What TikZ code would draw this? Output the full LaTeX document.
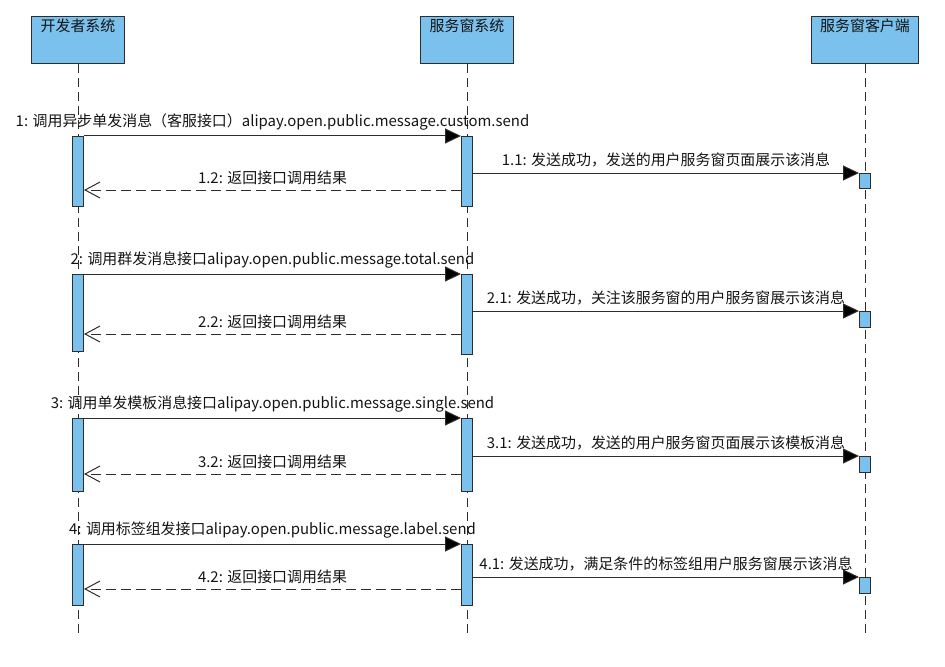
\documentclass[tikz,border=0pt]{standalone}
\usepackage{fontspec}
\setmainfont{Noto Sans CJK SC}
\usetikzlibrary{positioning,calc,arrows.meta}
\definecolor{actblue}{RGB}{122,193,238}
\definecolor{edge}{RGB}{45,45,45}
\definecolor{ink}{RGB}{20,20,20}

\begin{document}
\begin{tikzpicture}[x=1bp, y=-1bp, font=\fontsize{15}{18}\selectfont, text=ink,
    head/.style={draw=edge, line width=1bp, fill=actblue, anchor=north, minimum width=93bp, inner sep=4bp, text height=11bp, text depth=28bp},
    act/.style={draw=edge, line width=1bp, fill=actblue, anchor=north, minimum width=11bp, inner sep=0pt},
    life/.style={draw=edge, line width=1bp, dash pattern=on 9bp off 5bp},
    call/.style={draw=edge, line width=1bp, -{Triangle[length=16bp,width=15bp,fill=black]}},
    ret/.style={draw=edge, line width=1bp, dash pattern=on 10bp off 5bp, -{Straight Barb[length=15bp,width=16bp]}},
    msg/.style={above=4bp, midway, inner sep=1bp}]
    \useasboundingbox (0,0) rectangle (945,667);

    % lifelines
    \node[head] (dev) at (78,16) {开发者系统};
    \node[head] (svc) at (467,16) {服务窗系统};
    \node[head, minimum width=107bp] (cli) at (865,16) {服务窗客户端};
    \coordinate (devend) at (78,635);
    \coordinate (svcend) at (467,635);
    \coordinate (cliend) at (865,635);
    \draw[life] (dev.south) -- (devend);
    \draw[life] (svc.south) -- (svcend);
    \draw[life] (cli.south) -- (cliend);

    % message 1
    \node[act, minimum height=70bp] (d1) at (78,136) {};
    \node[act, minimum height=70bp] (s1) at (467,136) {};
    \node[act, minimum height=15bp] (c1) at (865,173) {};
    \draw[call] (d1.north east) -- node[msg] {1: 调用异步单发消息（客服接口）alipay.open.public.message.custom.send} (s1.north west);
    \draw[call] (s1.east |- c1.north) -- node[msg] {1.1: 发送成功，发送的用户服务窗页面展示该消息} (c1.north west);
    \draw[ret] ([yshift=-54bp]s1.north west) -- node[msg] {1.2: 返回接口调用结果} ([yshift=-54bp]d1.north east);

    % message 2
    \node[act, minimum height=77bp] (d2) at (78,274) {};
    \node[act, minimum height=80bp] (s2) at (467,274) {};
    \node[act, minimum height=16bp] (c2) at (865,311) {};
    \draw[call] (d2.north east) -- node[msg] {2: 调用群发消息接口alipay.open.public.message.total.send} (s2.north west);
    \draw[call] (s2.east |- c2.north) -- node[msg] {2.1: 发送成功，关注该服务窗的用户服务窗展示该消息} (c2.north west);
    \draw[ret] ([yshift=-60bp]s2.north west) -- node[msg] {2.2: 返回接口调用结果} ([yshift=-60bp]d2.north east);

    % message 3
    \node[act, minimum height=73bp] (d3) at (78,418) {};
    \node[act, minimum height=73bp] (s3) at (467,418) {};
    \node[act, minimum height=16bp] (c3) at (865,456) {};
    \draw[call] (d3.north east) -- node[msg] {3: 调用单发模板消息接口alipay.open.public.message.single.send} (s3.north west);
    \draw[call] (s3.east |- c3.north) -- node[msg] {3.1: 发送成功，发送的用户服务窗页面展示该模板消息} (c3.north west);
    \draw[ret] ([yshift=-56bp]s3.north west) -- node[msg] {3.2: 返回接口调用结果} ([yshift=-56bp]d3.north east);

    % message 4
    \node[act, minimum height=61bp] (d4) at (78,544) {};
    \node[act, minimum height=61bp] (s4) at (467,544) {};
    \node[act, minimum height=16bp] (c4) at (865,577) {};
    \draw[call] (d4.north east) -- node[msg] {4: 调用标签组发接口alipay.open.public.message.label.send} (s4.north west);
    \draw[call] (s4.east |- c4.north) -- node[msg] {4.1: 发送成功，满足条件的标签组用户服务窗展示该消息} (c4.north west);
    \draw[ret] ([yshift=-45bp]s4.north west) -- node[msg] {4.2: 返回接口调用结果} ([yshift=-45bp]d4.north east);
\end{tikzpicture}
\end{document}
